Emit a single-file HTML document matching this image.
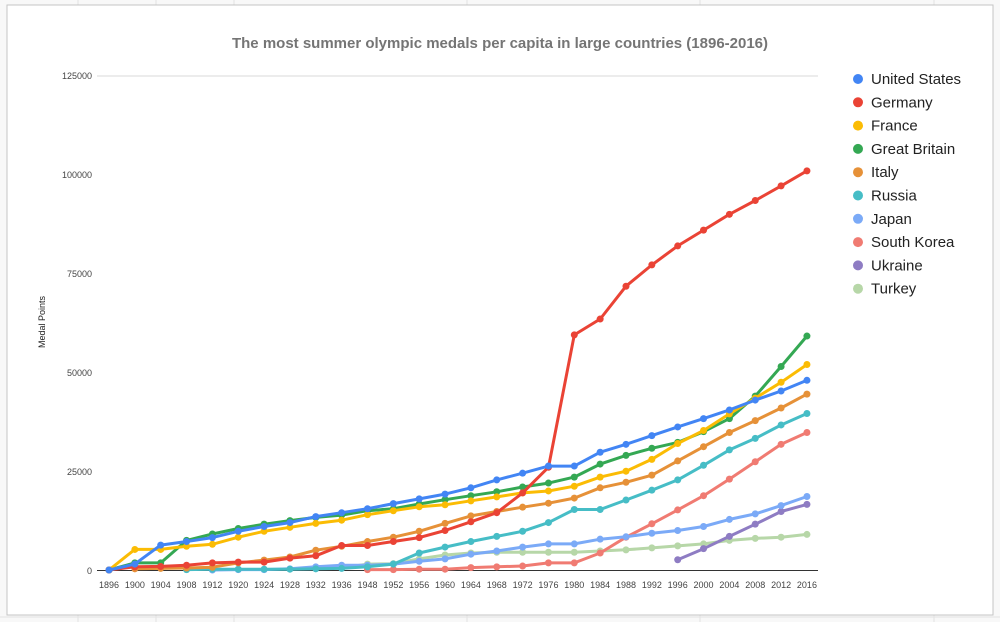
<!DOCTYPE html>
<html><head><meta charset="utf-8"><style>
html,body{margin:0;padding:0;background:#fff;}
svg{display:block;font-family:"Liberation Sans",Arial,sans-serif;}
</style></head><body>
<svg id="s" width="1000" height="622" xmlns="http://www.w3.org/2000/svg">
<rect width="1000" height="622" fill="#f8f8f8"/>
<g stroke="#e2e2e2" stroke-width="1">
<line x1="78" y1="0" x2="78" y2="622"/><line x1="156" y1="0" x2="156" y2="622"/><line x1="234" y1="0" x2="234" y2="622"/><line x1="467" y1="0" x2="467" y2="622"/><line x1="700" y1="0" x2="700" y2="622"/><line x1="934" y1="0" x2="934" y2="622"/>
<line x1="0" y1="617" x2="1000" y2="617"/>
</g>
<rect x="7" y="5" width="986" height="610" fill="#fff" stroke="#c4c4c4" stroke-width="1"/>
<text x="500" y="48" text-anchor="middle" font-size="15" font-weight="bold" fill="#757575">The most summer olympic medals per capita in large countries (1896-2016)</text>
<text transform="translate(45,322) rotate(-90)" text-anchor="middle" font-size="9" fill="#222">Medal Points</text>
<line x1="97" y1="76" x2="818" y2="76" stroke="#d9d9d9"/>
<line x1="97" y1="570.5" x2="818" y2="570.5" stroke="#333"/>
<g font-size="9" fill="#444" text-anchor="end">
<text x="92" y="79">125000</text><text x="92" y="178">100000</text><text x="92" y="277">75000</text><text x="92" y="376">50000</text><text x="92" y="475">25000</text><text x="92" y="574">0</text>
</g>
<g id="xl" font-size="9" fill="#444" text-anchor="middle"></g>
<g id="lines"></g>
<g id="leg" font-size="15" fill="#222"></g>
</svg>
<script>
var yrs=[1896,1900,1904,1908,1912,1920,1924,1928,1932,1936,1948,1952,1956,1960,1964,1968,1972,1976,1980,1984,1988,1992,1996,2000,2004,2008,2012,2016];
function X(i){return 109+i*25.85;}function Y(v){return 570-v*1000/25000*98.8;}
var N=null;
var S=[
["United States","#4285f4",[0,1.5,6.3,7.2,8.2,9.8,11,12,13.5,14.5,15.5,16.8,18,19.2,20.8,22.8,24.5,26.3,26.3,29.8,31.8,34,36.2,38.3,40.5,43,45.3,48]],
["Germany","#ea4335",[0,0.8,0.9,1.2,1.8,2,2,3,3.6,6.2,6.2,7.2,8.2,10,12.2,14.5,19.5,26,59.5,63.5,71.8,77.2,82,86,90,93.5,97.2,101]],
["France","#fbbc04",[0,5.2,5.2,6,6.5,8.3,9.8,10.8,11.8,12.6,14,15,16,16.5,17.5,18.5,19.5,20,21.2,23.5,25,28,32,35.3,39.5,43.5,47.5,52]],
["Great Britain","#34a853",[0,1.8,1.8,7.5,9.1,10.5,11.6,12.5,13.3,13.9,15,15.5,16.7,17.8,18.8,19.8,21,22,23.5,26.8,29,30.8,32.3,35,38.3,44,51.5,59.2]],
["Italy","#ff6d01",[N,0.3,0.4,0.5,0.7,1.8,2.5,3.3,5,6,7.2,8.3,9.8,11.8,13.7,14.8,15.9,16.9,18.2,20.8,22.2,24,27.6,31.2,34.8,37.8,41,44.5]],
["Russia","#46bdc6",[N,N,N,0.1,0.2,0.2,0.2,0.2,0.3,0.4,0.8,1.5,4.3,5.8,7.2,8.5,9.8,12,15.3,15.3,17.7,20.2,22.8,26.5,30.4,33.3,36.7,39.6]],
["Japan","#7baaf7",[N,N,N,N,0,0.1,0.1,0.3,0.8,1.2,1.2,1.5,2.2,2.8,4,4.8,5.8,6.6,6.6,7.8,8.4,9.3,10,11,12.8,14.2,16.3,18.6]],
["South Korea","#f07b72",[N,N,N,N,N,N,N,N,N,N,0.1,0.1,0.2,0.2,0.6,0.8,1,1.8,1.8,4.3,8.3,11.7,15.2,18.8,23,27.4,31.8,34.8]],
["Ukraine","#8e7cc3",[N,N,N,N,N,N,N,N,N,N,N,N,N,N,N,N,N,N,N,N,N,N,2.6,5.4,8.5,11.6,14.8,16.6]],
["Turkey","#b7d7a8",[N,N,N,N,N,N,N,N,N,0.5,1.5,1.6,2.8,3.8,4.3,4.5,4.5,4.5,4.5,4.8,5.1,5.6,6.1,6.6,7.5,8,8.3,9]]
];
S[4][1]="#e69138";
var ns="http://www.w3.org/2000/svg",L=document.getElementById("lines"),G=document.getElementById("leg"),XL=document.getElementById("xl");
function el(t,a,p){var e=document.createElementNS(ns,t);for(var k in a)e.setAttribute(k,a[k]);p.appendChild(e);return e;}
yrs.forEach(function(y,i){var t=el("text",{x:X(i),y:588},XL);t.textContent=y;});
for(var j=S.length-1;j>=0;j--){var s=S[j],d="",pts=[];
 s[2].forEach(function(v,i){if(v===null)return;d+=(d?"L":"M")+X(i).toFixed(1)+","+Y(v).toFixed(1);pts.push([X(i),Y(v)]);});
 el("path",{d:d,fill:"none",stroke:s[1],"stroke-width":3,"stroke-linejoin":"round"},L);
 pts.forEach(function(p){el("circle",{cx:p[0],cy:p[1],r:3.5,fill:s[1]},L);});}
S.forEach(function(s,j){var y=79+j*23.3;el("circle",{cx:858,cy:y,r:5,fill:s[1]},G);var t=el("text",{x:871,y:y+5},G);t.textContent=s[0];});
</script>
</body></html>
